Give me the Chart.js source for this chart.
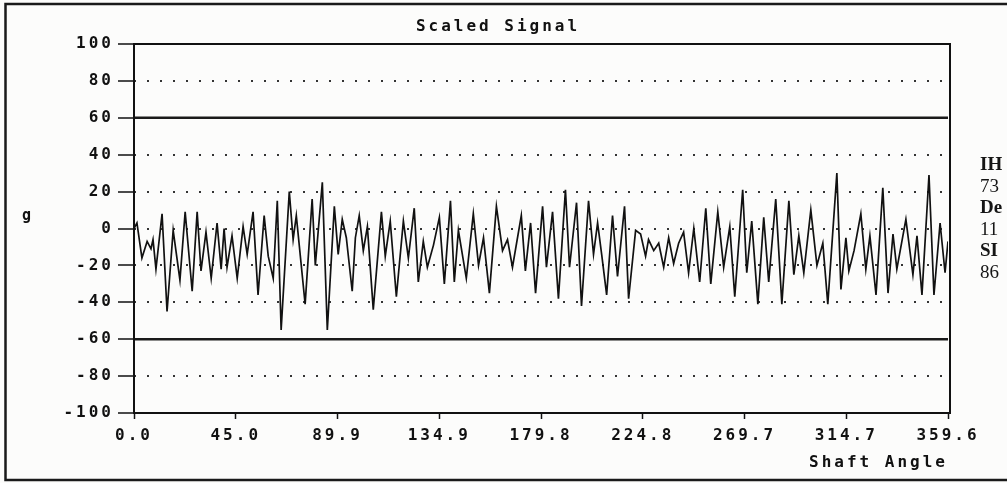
<!DOCTYPE html>
<html>
<head>
<meta charset="utf-8">
<script src="https://cdn.jsdelivr.net/npm/chart.js@4.4.1/dist/chart.umd.min.js"></script>
<style>
body{margin:0;background:#fcfcfb;}
#wrap{position:relative;width:1007px;height:483px;overflow:hidden;background:#fcfcfb;}
#side div{position:absolute;left:980px;white-space:nowrap;font-family:"Liberation Serif",serif;font-size:19px;line-height:20px;color:#151515;}
</style>
</head>
<body>
<div id="wrap">
<canvas id="c" width="1007" height="483"></canvas>
<div id="side"></div>
</div>
<script>
// axis ticks
const tickAngles = [0, 44.95, 89.9, 134.85, 179.8, 224.75, 269.7, 314.65, 359.6];
const tickLabels = ['0.0','45.0','89.9','134.9','179.8','224.8','269.7','314.7','359.6'];
const yTicks = [100, 80, 60, 40, 20, 0, -20, -40, -60, -80, -100];
const limitLevels = [60, -60];

// side panel text (cut off at the page edge)
const sideLabels = ['IH','73','De','11','SI','86'];
const sideBold = [true,false,true,false,true,false];

// scaled signal, g vs shaft angle (deg)
const shaftAngle = [
0,1.3,3.5,5.8,7.5,8.4,9.7,12.4,14.6,17.3,
20.3,22.6,25.7,27.9,29.6,31.8,34.1,36.7,38.5,39.8,
41.1,43.3,45.6,48.2,50.0,52.6,54.8,57.5,59.3,61.5,
63.3,65.0,68.6,70.3,71.7,75.6,78.7,80.1,83.2,85.4,
88.5,90.2,92.0,93.8,96.4,97.8,99.5,101.3,103.1,105.7,
109.3,111.0,113.2,115.9,119.0,121.2,123.8,125.6,127.8,129.6,
132.3,134.9,137.1,139.8,141.5,143.3,146.8,149.9,152.2,154.4,
157.0,160.1,162.8,165.0,167.2,171.1,172.9,175.2,177.4,180.5,
182.2,184.9,187.5,190.6,192.4,195.5,197.7,200.8,203.0,204.8,
206.6,208.8,211.4,213.6,216.7,218.5,221.6,223.8,226.0,227.3,
229.6,231.8,234.0,236.2,238.4,240.6,242.8,245.0,247.3,249.9,
252.6,254.8,257.9,260.5,263.2,265.4,268.9,270.7,272.9,275.6,
278.2,280.4,283.5,286.2,289.3,291.5,293.7,295.9,299.0,301.7,
304.3,306.5,310.5,312.3,314.5,315.8,318.1,321.1,323.3,325.1,
327.8,330.8,333.1,335.3,337.0,341.0,344.1,345.9,348.1,351.2,
353.4,356.1,358.3,359.6
];
const accel = [
0,3,-16,-7,-11,-6,-22,8,-45,-1,
-28,9,-34,9,-23,-2,-27,3,-22,0,
-21,-4,-27,1,-14,9,-36,7,-15,-27,
15,-55,20,-6,7,-41,16,-20,25,-55,
12,-14,5,-5,-34,-5,7,-12,1,-44,
9,-15,4,-37,4,-16,11,-29,-7,-21,
-9,6,-30,15,-29,-1,-27,8,-20,-5,
-35,12,-12,-6,-21,7,-23,3,-35,12,
-21,9,-38,21,-21,14,-42,15,-14,3,
-14,-36,7,-26,12,-38,-1,-3,-15,-6,
-12,-8,-21,-5,-19,-8,-2,-24,0,-29,
11,-30,9,-21,1,-37,21,-24,4,-41,
6,-29,16,-41,15,-25,-4,-24,10,-20,
-8,-41,30,-33,-5,-23,-12,8,-22,-4,
-36,22,-35,-3,-22,5,-25,-4,-36,29,
-36,3,-24,-7
];

const side = document.getElementById('side');
sideLabels.forEach((t,i)=>{
  const d = document.createElement('div');
  d.textContent = t;
  d.style.top = (154 + i*21.6) + 'px';
  if (sideBold[i]) d.style.fontWeight = 'bold';
  side.appendChild(d);
});

const monoFont = {family:'"DejaVu Sans Mono", monospace', size:16, weight:'bold'};
const spacing = '3px';

const frame = {
  id:'frame',
  beforeUpdate(c){ c.ctx.letterSpacing = spacing; },
  beforeDraw(c){
    const ctx = c.ctx;
    ctx.letterSpacing = spacing;
    ctx.save();
    ctx.fillStyle = '#fcfcfb';
    ctx.fillRect(0,0,c.width,c.height);
    ctx.strokeStyle = '#1a1a1a';
    ctx.lineWidth = 2.5;
    ctx.strokeRect(5.5,4,1030,476);
    ctx.restore();
  },
  afterDraw(c){
    const a = c.chartArea, ctx = c.ctx;
    ctx.save();
    ctx.strokeStyle = '#111';
    ctx.lineWidth = 2;
    ctx.strokeRect(a.left, a.top, a.right - a.left + 2, a.bottom - a.top);
    ctx.font = 'bold 15px "DejaVu Sans Mono"';
    ctx.fillStyle = '#111';
    ctx.fillText('g', 22, 220);
    ctx.restore();
  }
};

const datasets = [{
  data: shaftAngle.map((a,i)=>({x:a, y:accel[i]})),
  borderColor:'#111', borderWidth:1.7, pointRadius:0, tension:0
}];
limitLevels.forEach(l=>{
  datasets.push({
    data:[{x:0,y:l},{x:359.6,y:l}],
    borderColor:'#1a1a1a', borderWidth:2.6, pointRadius:0
  });
});

new Chart(document.getElementById('c'), {
  type:'line',
  data:{datasets:datasets},
  options:{
    responsive:false,
    animation:false,
    layout:{padding:{left:48,right:59,top:13,bottom:8}},
    plugins:{
      legend:{display:false},
      tooltip:{enabled:false},
      title:{display:true,text:'Scaled Signal',color:'#111',font:monoFont,padding:{top:4.4,bottom:7.4}}
    },
    scales:{
      x:{
        type:'linear',min:0,max:359.6,
        afterBuildTicks:s=>{ s.ticks = tickAngles.map(v=>({value:v})); },
        afterFit:s=>{ s.height = 62; },
        border:{display:false},
        grid:{drawOnChartArea:false,drawTicks:true,tickLength:6,tickColor:'#111',tickWidth:1.5},
        ticks:{autoSkip:false,maxRotation:0,padding:7,color:'#111',font:monoFont,
          callback:(v,i)=>tickLabels[i]},
        title:{display:true,text:'Shaft Angle',align:'end',color:'#111',font:monoFont,padding:{top:0,bottom:2.4}}
      },
      y:{
        min:-100,max:100,
        afterBuildTicks:s=>{ s.ticks = yTicks.map(v=>({value:v})); },
        afterFit:s=>{ s.width = 86; },
        border:{display:false,dash:[2,11]},
        grid:{
          color:ctx=>Math.abs(ctx.tick.value)===100 ? 'rgba(0,0,0,0)' : '#333',
          lineWidth:2,tickLength:16,tickColor:'#111',tickWidth:1.5,tickBorderDash:[]
        },
        ticks:{padding:4,color:'#111',font:monoFont,callback:v=>String(v)}
      }
    }
  },
  plugins:[frame]
});
</script>
</body>
</html>
